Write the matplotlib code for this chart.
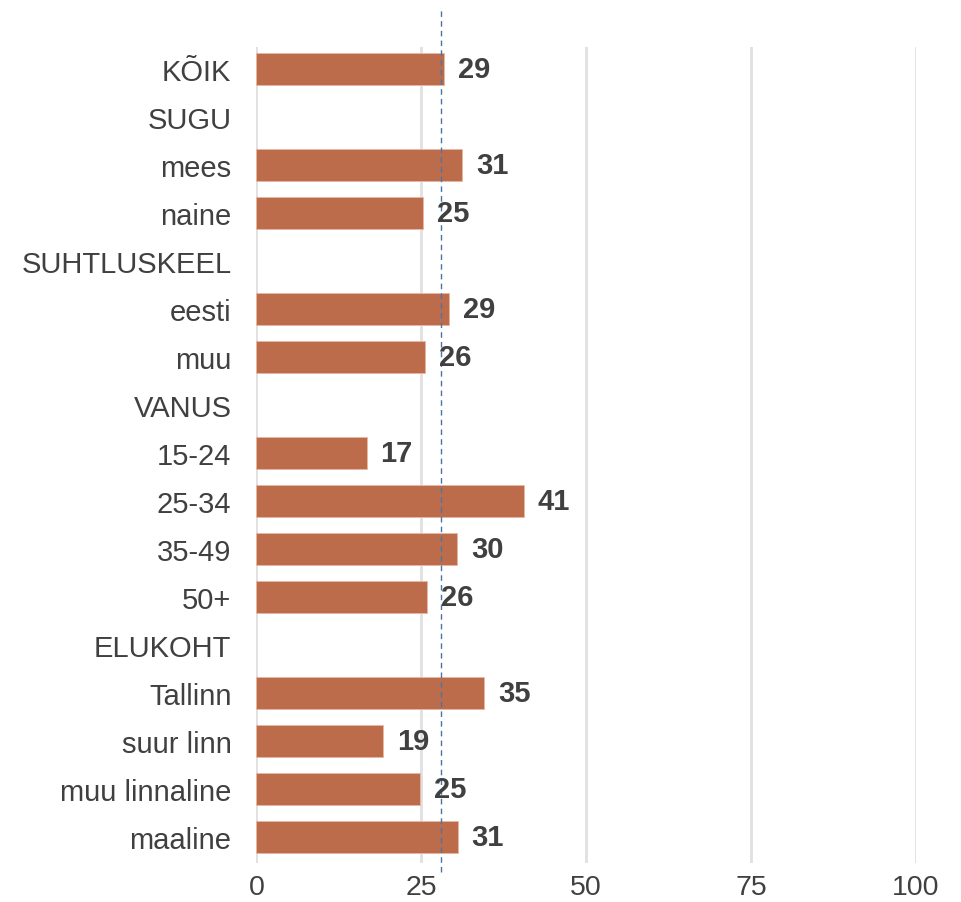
import matplotlib
matplotlib.use("Agg")
import matplotlib.pyplot as plt
import numpy as np

categories = ["KÕIK", "SUGU", "mees", "naine", "SUHTLUSKEEL", "eesti", "muu",
              "VANUS", "15-24", "25-34", "35-49", "50+", "ELUKOHT",
              "Tallinn", "suur linn", "muu linnaline", "maaline"]
values = [28.5, np.nan, 31.2, 25.3, np.nan, 29.2, 25.6, np.nan,
          16.7, 40.5, 30.4, 25.9, np.nan, 34.5, 19.2, 24.8, 30.5]
value_labels = ["29", "", "31", "25", "", "29", "26", "",
                "17", "41", "30", "26", "", "35", "19", "25", "31"]
average = 28.0
xticks = [0, 25, 50, 75, 100]

plt.rcParams['font.family'] = ['Liberation Sans', 'DejaVu Sans']
text_color = '#404040'
bar_color = '#bc6c4a'

fig = plt.figure(figsize=(9.62, 9.03), dpi=100)
ax = fig.add_axes([256.5 / 962, 39 / 903, (916 - 256.5) / 962, 816 / 903])

y = np.arange(len(categories))
vals = np.array(values, dtype=float)
mask = ~np.isnan(vals)
ax.barh(y[mask], vals[mask], height=0.66, color=bar_color,
        edgecolor='#e8b8a0', linewidth=0.6, zorder=3)

for yi, v, lab in zip(y, vals, value_labels):
    if not np.isnan(v):
        ax.annotate(lab, xy=(v, yi), xytext=(10, 0), textcoords='offset points',
                    ha='left', va='center', fontsize=21, fontweight='bold',
                    color=text_color, zorder=5)

ax.axvline(average, ymin=-0.011, ymax=1.049, color='#4a74a8', linestyle=(0, (4, 3)),
           linewidth=1.0, clip_on=False, zorder=4)

ax.set_xlim(0, 100)
ax.set_ylim(16.54, -0.46)
ax.set_xticks(xticks)
ax.set_xticklabels([str(t) for t in xticks])
ax.set_yticks(y)
ax.set_yticklabels(categories)
ax.tick_params(axis='y', length=0, pad=18, labelsize=21, labelcolor=text_color)
ax.tick_params(axis='x', length=0, pad=8, labelsize=20.5, labelcolor=text_color)
ax.grid(axis='x', color='#e0e0e0', linewidth=2, zorder=0)
ax.set_axisbelow(True)
for s in ax.spines.values():
    s.set_visible(False)

fig.savefig('out.png', dpi=100)
